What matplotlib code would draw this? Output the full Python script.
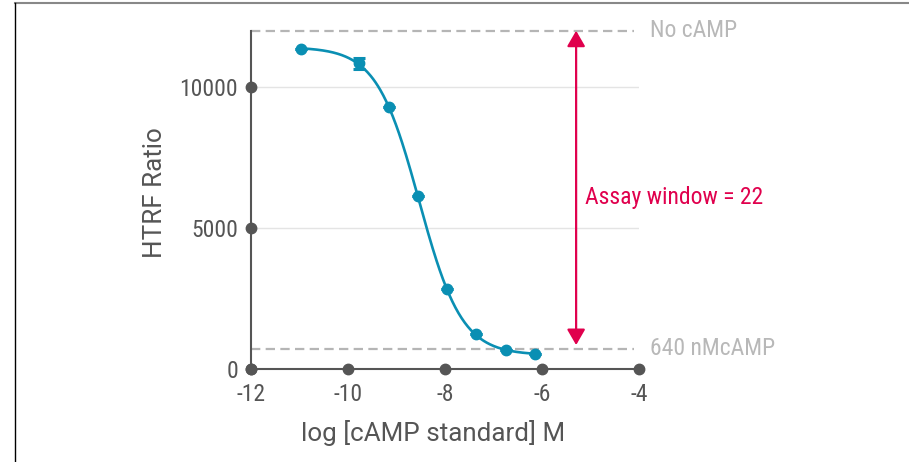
import numpy as np
import matplotlib
matplotlib.use("Agg")
import matplotlib.pyplot as plt
from matplotlib.lines import Line2D
from matplotlib.patches import FancyArrowPatch
from matplotlib import font_manager

# cAMP standard curve (log molar concentration vs HTRF ratio)
log_conc = [-10.96, -9.76, -9.16, -8.56, -7.96, -7.36, -6.74, -6.14]
htrf_ratio = [11350, 10840, 9290, 6150, 2830, 1230, 675, 520]
htrf_err = [0, 190, 0, 0, 0, 0, 0, 0]

no_camp_level = 12000
max_camp_level = 710
arrow_low = 850
assay_window = 22

x_ticks = [-12, -10, -8, -6, -4]
y_ticks = [0, 5000, 10000]

installed = {f.name for f in font_manager.fontManager.ttflist}
narrow = [f for f in ['Roboto Condensed', 'Liberation Sans Narrow', 'Roboto']
          if f in installed] + ['DejaVu Sans']
regular = [f for f in ['Roboto'] if f in installed] + ['DejaVu Sans']
plt.rcParams['font.family'] = narrow
plt.rcParams['axes.unicode_minus'] = False

TEAL = '#0a8fb3'
DARK = '#555555'
LIGHT = '#b5b5b5'
CRIMSON = '#e0004d'

# four-parameter logistic fit: grid over EC50/hill, linear solve for bottom/top
xd = np.array(log_conc)
yd = np.array(htrf_ratio, dtype=float)
best = None
for ec in np.linspace(-9.5, -7.5, 401):
    for h in np.linspace(0.4, 2.0, 161):
        s = 1.0 / (1.0 + 10 ** ((xd - ec) * h))
        A = np.column_stack([np.ones_like(s), s])
        coef, *_ = np.linalg.lstsq(A, yd, rcond=None)
        r = np.sum((A @ coef - yd) ** 2)
        if best is None or r < best[0]:
            best = (r, ec, h, coef)
_, ec50, hill, (bottom, span) = best
xf = np.linspace(xd.min(), xd.max(), 300)
yf = bottom + span / (1.0 + 10 ** ((xf - ec50) * hill))

fig = plt.figure(figsize=(9.09, 4.62), dpi=100)
ax = fig.add_axes([0.2756, 0.2013, 0.4277, 0.7322])

ax.set_xlim(-12, -4)
ax.set_ylim(0, 12000)

for yt in y_ticks[1:]:
    ax.axhline(yt, color='#e4e4e4', lw=1.0, zorder=0)

ax.plot([-12, -4.1], [no_camp_level] * 2, color=LIGHT, lw=1.6,
        ls=(0, (4.2, 2.4)), clip_on=False, zorder=1)
ax.plot([-12, -4.1], [max_camp_level] * 2, color=LIGHT, lw=1.6,
        ls=(0, (4.2, 2.4)), clip_on=False, zorder=1)
ax.text(-3.77, no_camp_level, 'No cAMP', color='#b8b8b8', fontsize=17,
        ha='left', va='center')
ax.text(-3.77, max_camp_level, '640 nMcAMP', color='#b8b8b8', fontsize=17,
        ha='left', va='center')

ax.plot(xf, yf, color=TEAL, lw=1.9, zorder=3)
ax.errorbar(log_conc, htrf_ratio, yerr=htrf_err, fmt='o', color=TEAL,
            ms=7.5, capsize=4.3, elinewidth=1.8, capthick=2.2, zorder=4)

arr = FancyArrowPatch((-5.3, arrow_low), (-5.3, no_camp_level),
                      arrowstyle='<|-|>,head_length=0.95,head_width=0.55',
                      mutation_scale=10, color=CRIMSON, lw=1.6,
                      shrinkA=0, shrinkB=0, zorder=5)
ax.add_patch(arr)
ax.text(-5.12, 6080, f'Assay window = {assay_window}', color=CRIMSON,
        fontsize=17, ha='left', va='center')

for s in ['top', 'right']:
    ax.spines[s].set_visible(False)
for s in ['left', 'bottom']:
    ax.spines[s].set_color(DARK)
    ax.spines[s].set_linewidth(1.5)

ax.set_xticks(x_ticks)
ax.set_yticks(y_ticks)
ax.tick_params(length=0, labelsize=17, labelcolor=DARK)
ax.tick_params(axis='x', pad=10)
ax.tick_params(axis='y', pad=9)

ax.plot(x_ticks, [0] * len(x_ticks), 'o', color=DARK, ms=7.5,
        clip_on=False, zorder=6)
ax.plot([-12] * len(y_ticks), y_ticks, 'o', color=DARK, ms=7.5,
        clip_on=False, zorder=6)

ax.set_xlabel('log [cAMP standard] M', fontsize=18.7, color=DARK,
              family=regular)
ax.xaxis.set_label_coords(0.469, -0.152)
ax.set_ylabel('HTRF Ratio', fontsize=18.7, color=DARK, family=regular)
ax.yaxis.set_label_coords(-0.215, 0.522)

# page frame edges
fig.add_artist(Line2D([14.5 / 909, 1], [1 - 3 / 462] * 2, color='#888888',
                      lw=1.5, transform=fig.transFigure))
fig.add_artist(Line2D([14.5 / 909] * 2, [0, 1 - 2.5 / 462], color='black',
                      lw=1.0, transform=fig.transFigure))

fig.savefig('out.png', dpi=100)
